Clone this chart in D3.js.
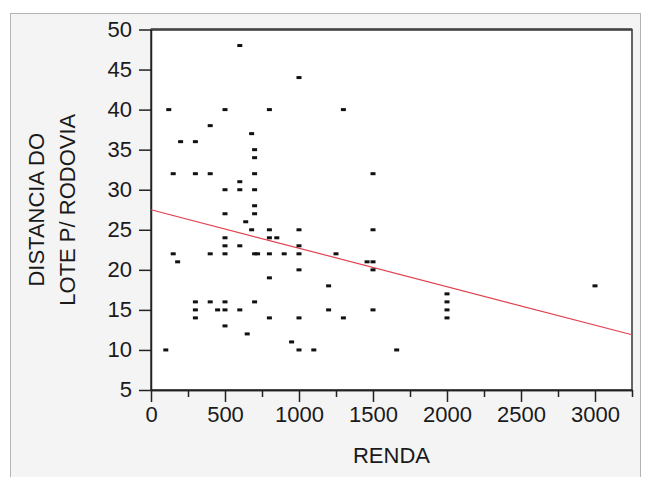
<!DOCTYPE html>
<html>
<head>
  <meta charset="utf-8">
  <script src="https://d3js.org/d3.v7.min.js"></script>
  <style>
    body {
      margin: 0;
      background: #ffffff;
      font-family: "Liberation Sans", Arial, sans-serif;
    }
    .tick text, .axis_title {
      fill: #1a1a1a;
      font-size: 22px;
    }
    .tick line, .domain {
      stroke: #222222;
      stroke-width: 1.5;
    }
  </style>
  <title>RENDA x DISTANCIA</title>
</head>
<body>
  <svg></svg>
  <script>
    // RENDA (x) and DISTANCIA DO LOTE P/ RODOVIA (y)
    const renda = [
      600, 1000, 120, 500, 800, 1300, 400, 680, 200, 300,
      700, 700, 150, 300, 400, 700, 1500, 600, 500, 600,
      700, 700, 500, 700, 640, 680, 800, 1000, 1500, 500,
      800, 850, 500, 600, 1000, 150, 400, 500, 700, 720,
      800, 900, 1000, 1250, 180, 1460, 1500, 1000, 1500, 800,
      1200, 3000, 2000, 300, 400, 500, 700, 2000, 300, 450,
      500, 600, 1200, 1500, 2000, 300, 800, 1000, 1300, 2000,
      500, 650, 950, 100, 1000, 1100, 1660
    ]
    const distancia = [
      48, 44, 40, 40, 40, 40, 38, 37, 36, 36,
      35, 34, 32, 32, 32, 32, 32, 31, 30, 30,
      30, 28, 27, 27, 26, 25, 25, 25, 25, 24,
      24, 24, 23, 23, 23, 22, 22, 22, 22, 22,
      22, 22, 22, 22, 21, 21, 21, 20, 20, 19,
      18, 18, 17, 16, 16, 16, 16, 16, 15, 15,
      15, 15, 15, 15, 15, 14, 14, 14, 14, 14,
      13, 12, 11, 10, 10, 10, 10
    ]

    // fitted line
    const fitIntercept = 27.5
    const fitSlope = -0.0048

    const xDomain = [0, 3250]
    const yDomain = [5, 50]
    const xMajorTicks = [0, 500, 1000, 1500, 2000, 2500, 3000]
    const xMinorTicks = [250, 750, 1250, 1750, 2250, 2750, 3250]
    const yTicks = [5, 10, 15, 20, 25, 30, 35, 40, 45, 50]

    const width = 645
    const height = 477

    const svg = d3.select("svg")
      .attr("width", width)
      .attr("height", height)

    // grey panel
    svg.append("rect")
      .attr("x", 10.5)
      .attr("y", 13.5)
      .attr("width", 630)
      .attr("height", 480)
      .attr("fill", "#f4f4f4")
      .attr("stroke", "#b4b4b4")

    const xScale = d3.scaleLinear()
      .domain(xDomain)
      .range([151, 632])

    const yScale = d3.scaleLinear()
      .domain(yDomain)
      .range([390, 29.5])

    // plot area
    svg.append("rect")
      .attr("x", xScale(xDomain[0]))
      .attr("y", yScale(yDomain[1]))
      .attr("width", xScale(xDomain[1]) - xScale(xDomain[0]))
      .attr("height", yScale(yDomain[0]) - yScale(yDomain[1]))
      .attr("fill", "#ffffff")
      .attr("stroke", "#333333")
      .attr("stroke-width", 1.5)

    svg.append("line")
      .attr("x1", xScale(xDomain[0]))
      .attr("x2", xScale(xDomain[1]))
      .attr("y1", yScale(yDomain[1]))
      .attr("y2", yScale(yDomain[1]))
      .attr("stroke", "#444444")
      .attr("stroke-width", 2.5)

    // x axis: minor then major ticks
    svg.append("g")
      .attr("transform", `translate(0,${yScale(yDomain[0])})`)
      .call(d3.axisBottom(xScale).tickValues(xMinorTicks).tickSize(7).tickSizeOuter(0).tickFormat(""))

    svg.append("g")
      .attr("transform", `translate(0,${yScale(yDomain[0])})`)
      .call(d3.axisBottom(xScale).tickValues(xMajorTicks).tickSize(12).tickSizeOuter(0).tickPadding(4).tickFormat(d3.format("d")))

    // y axis
    svg.append("g")
      .attr("transform", `translate(${xScale(xDomain[0])},0)`)
      .call(d3.axisLeft(yScale).tickValues(yTicks).tickSize(12).tickSizeOuter(0).tickPadding(7))
      .selectAll(".tick text")
      .attr("dy", "0.3em")

    // fitted line
    svg.append("line")
      .attr("x1", xScale(xDomain[0]))
      .attr("y1", yScale(fitIntercept + fitSlope * xDomain[0]))
      .attr("x2", xScale(xDomain[1]))
      .attr("y2", yScale(fitIntercept + fitSlope * xDomain[1]))
      .attr("stroke", "#e2404e")
      .attr("stroke-width", 1.2)

    // points
    svg.selectAll(".point")
      .data(renda.map((r, i) => ({x: r, y: distancia[i]})))
      .enter()
      .append("rect")
      .attr("class", "point")
      .attr("x", d => xScale(d.x) - 2.5)
      .attr("y", d => yScale(d.y) - 1.5)
      .attr("width", 5)
      .attr("height", 3)
      .attr("fill", "#111111")

    // titles
    svg.append("text")
      .attr("class", "axis_title")
      .attr("x", (xScale(xDomain[0]) + xScale(xDomain[1])) / 2)
      .attr("y", 463)
      .attr("text-anchor", "middle")
      .text("RENDA")

    const yMid = (yScale(yDomain[0]) + yScale(yDomain[1])) / 2

    svg.append("text")
      .attr("class", "axis_title")
      .attr("transform", `translate(44,${yMid}) rotate(-90)`)
      .attr("text-anchor", "middle")
      .text("DISTANCIA DO")

    svg.append("text")
      .attr("class", "axis_title")
      .attr("transform", `translate(75,${yMid}) rotate(-90)`)
      .attr("text-anchor", "middle")
      .text("LOTE P/ RODOVIA")
  </script>
</body>
</html>
